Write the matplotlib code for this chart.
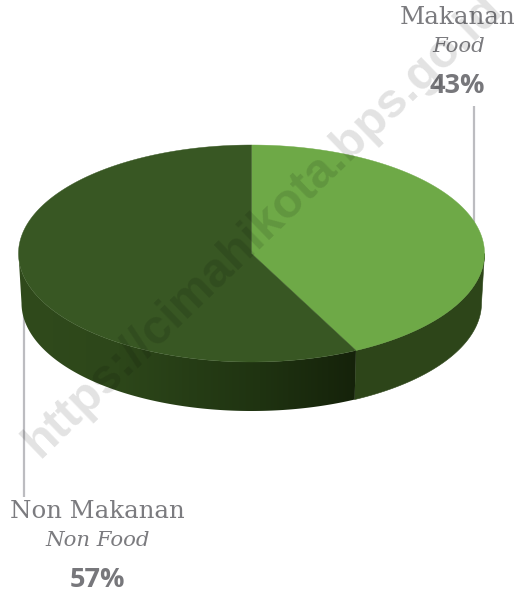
import numpy as np
import matplotlib
matplotlib.use("Agg")
import matplotlib.pyplot as plt
from matplotlib.patches import Polygon
from matplotlib.colors import LinearSegmentedColormap, to_rgb

categories = ["Makanan", "Non Makanan"]
translations = ["Food", "Non Food"]
shares = [42.6, 57.4]
share_labels = ["43%", "57%"]
top_colors = ["#6ea947", "#385723"]
side_food = "#2d4519"
side_nonfood_stops = [(180, "#304a1c"), (125, "#2d471a"), (88, "#1f3311"), (64, "#15220a")]

W, H = 518, 594
cx, cy, a, b = 251.5, 253.5, 233.0, 108.5
cy2, a2, b2 = 303.0, 230.0, 108.0

fig = plt.figure(figsize=(W / 100, H / 100), dpi=100)
ax = fig.add_axes([0, 0, 1, 1])
ax.set_xlim(0, W)
ax.set_ylim(H, 0)
ax.axis("off")

def pt(t):
    t = np.radians(t)
    return cx + a * np.cos(t), cy + b * np.sin(t)

def pt2(t):
    t = np.radians(t)
    return cx + a2 * np.cos(t), cy2 + b2 * np.sin(t)

def wall(t):
    xs, ys = pt(t)
    xb, yb = pt2(t)
    return np.r_[np.c_[xs, ys], np.c_[xb, yb][::-1]]

# leader lines
ax.plot([473.5, 473.5], [106, 225], color="#bcbcc0", lw=1.6, zorder=1, solid_capstyle="butt")
ax.plot([23.5, 23.5], [312, 497], color="#bcbcc0", lw=1.6, zorder=1, solid_capstyle="butt")

# angles are measured clockwise on screen from the +x axis; the pie starts at the top
boundary = -90 + 360 * shares[0] / sum(shares)

# side wall: food slice
ax.add_patch(Polygon(wall(np.linspace(0, boundary, 120)), closed=True,
                     fc=side_food, ec=side_food, lw=0.4, zorder=2))

# side wall: non-food slice with a smooth left-to-right shading
xl = cx + a * np.cos(np.radians(180))
xr = cx + a * np.cos(np.radians(boundary))
stop_x = [cx + a * np.cos(np.radians(s[0])) for s in side_nonfood_stops]
stop_pos = np.clip((np.array(stop_x) - xl) / (xr - xl), 0, 1)
stop_pos[-1] = 1.0
cmap = LinearSegmentedColormap.from_list("side", list(zip(stop_pos, [to_rgb(s[1]) for s in side_nonfood_stops])))
clip = Polygon(wall(np.linspace(boundary, 180, 240)), closed=True, fc="none", ec="none",
               transform=ax.transData)
ax.add_patch(clip)
im = ax.imshow(np.linspace(0, 1, 512)[None, :], cmap=cmap, extent=[xl, xr, 420, 240],
               aspect="auto", interpolation="bilinear", zorder=2)
im.set_clip_path(clip)
ax.set_xlim(0, W)
ax.set_ylim(H, 0)

# top faces
start = -90
for share, col in zip(shares, top_colors):
    sweep = 360 * share / sum(shares)
    ts = np.linspace(start, start + sweep, 240)
    xs, ys = pt(ts)
    ax.add_patch(Polygon(np.r_[[[cx, cy]], np.c_[xs, ys]], closed=True, fc=col, ec=col, lw=0.3, zorder=3))
    start += sweep

serif = "DejaVu Serif"
sans = "Open Sans"
grey = "#7b7b7f"
ax.text(458, 18, categories[0], family=serif, fontsize=17.7, color=grey, ha="center", va="center", zorder=5)
ax.text(458.5, 46, translations[0], family=serif, style="italic", fontsize=15.3, color=grey, ha="center", va="center", zorder=5)
ax.text(457.5, 86, share_labels[0], family=sans, weight="bold", fontsize=19.5, color="#77777b", ha="center", va="center", zorder=5)
ax.text(97, 512, categories[1], family=serif, fontsize=17.6, color=grey, ha="center", va="center", zorder=5)
ax.text(97.5, 540, translations[1], family=serif, style="italic", fontsize=15.3, color=grey, ha="center", va="center", zorder=5)
ax.text(97, 580, share_labels[1], family=sans, weight="bold", fontsize=19.5, color="#77777b", ha="center", va="center", zorder=5)

# watermark
ax.text(263, 226, "https://cimahikota.bps.go.id", family="Liberation Sans", weight="bold", fontsize=35,
        color="black", alpha=0.115, rotation=44, rotation_mode="anchor", ha="center", va="center", zorder=6)

fig.savefig("out.png", dpi=100)
